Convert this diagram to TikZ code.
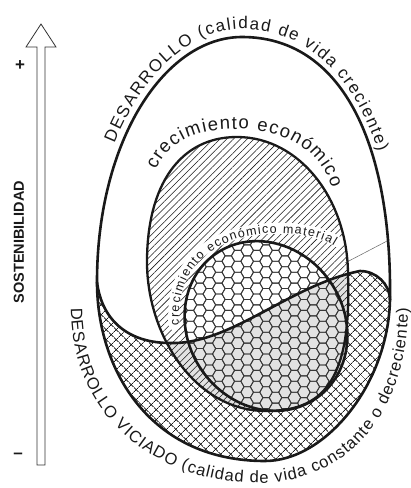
\documentclass[tikz,border=0pt]{standalone}
\usepackage{fontspec}
\setmainfont{Liberation Sans}
\usetikzlibrary{decorations.text,patterns.meta}
\definecolor{gfill}{RGB}{226,226,226}
\definecolor{ink}{RGB}{25,25,25}
\def\EggPath{(97,282) .. controls (97,140) and (165,37) .. (242,37) .. controls (340,37) and (392,140) .. (390,300) .. controls (388,385) and (325,461) .. (265,461) .. controls (150,461) and (97,370) .. (97,282) -- cycle}
\def\LowPath{(97,282) .. controls (102,322) and (130,343) .. (170,343) .. controls (230,345) and (290,285) .. (360,271) .. controls (376,271) and (390,284) .. (390,300) .. controls (388,385) and (325,461) .. (265,461) .. controls (150,461) and (97,370) .. (97,282) -- cycle}
\def\SPath{(97,282) .. controls (102,322) and (130,343) .. (170,343) .. controls (230,345) and (290,285) .. (360,271) .. controls (376,271) and (390,284) .. (390,300)}
\def\HPath{(237,137) .. controls (300,137) and (348,200) .. (348,275) .. controls (352,385) and (320,411) .. (266,411) .. controls (195,411) and (147,335) .. (147,262) .. controls (147,185) and (180,137) .. (237,137) -- cycle}
\def\XPath{[rotate around={35:(266,326)}] (266,326) ellipse [x radius=78pt, y radius=88pt]}
\tikzset{
  outline/.style={draw=ink, line width=2.6pt},
  bigtext/.style={decorate, decoration={text along path, text align={fit to path}, text color=ink}},
  hexline/.style={draw=black!78, line width=0.85pt},
}
\begin{document}
\begin{tikzpicture}[x=1pt,y=-1pt]
\useasboundingbox (0,0) rectangle (411,488);
\fill[white] (0,0) rectangle (411,488);
% lower region: crosshatch
\fill[pattern={Hatch[angle=45,distance=7.4pt,line width=0.8pt]}, pattern color=ink] \LowPath;
% economic growth ellipse
\fill[white] \HPath;
\begin{scope}
  \clip \LowPath;
  \fill[gfill] \HPath;
\end{scope}
\fill[pattern={Lines[angle=45,distance=4.8pt,line width=0.55pt]}, pattern color=ink] \HPath;
% material growth ellipse
\fill[white] \XPath;
\begin{scope}
  \clip \LowPath;
  \fill[gfill] \XPath;
\end{scope}
\begin{scope}
  \clip \XPath;
  \foreach \i in {0,...,19} {
    \foreach \j in {0,...,17} {
      \pgfmathsetmacro\cx{181+9.45*\i}
      \pgfmathsetmacro\cy{234+10.91*\j+5.46*mod(\i,2)}
      \draw[hexline] (\cx,\cy) +(0:6.3) -- +(60:6.3) -- +(120:6.3) -- +(180:6.3) -- +(240:6.3) -- +(300:6.3) -- cycle;
    }
  }
\end{scope}
% white halo under small label
\draw[white, line width=11pt, line cap=round] (174,325) .. controls (170,268) and (204,235) .. (262,229) .. controls (296,226) and (322,232) .. (338,242);
% leader line
\coordinate (ldA) at (345,263);
\coordinate (ldB) at (389,240);
\draw[black!60, line width=0.5pt] (ldA) -- (ldB);
% outlines
\draw[outline, line width=2.3pt] \HPath;
\draw[outline] \XPath;
\draw[outline] \SPath;
\draw[outline] \EggPath;
% labels along curves
\path[bigtext, decoration={text={|\fontsize{17}{17}\selectfont|DESARROLLO (calidad de vida creciente)}}]
  (114.5,143.6) .. controls (142.9,73.7) and (191.4,29) .. (242,29) .. controls (305.7,29) and (353.3,75.1) .. (378.3,151.8);
\path[bigtext, decoration={text={|\fontsize{18.5}{18.5}\selectfont|crecimiento económico}}]
  (156,170) .. controls (170,138) and (200,129) .. (237,129) .. controls (285,129) and (320,150) .. (332,188);
\path[bigtext, decoration={text={|\fontsize{12.5}{13}\selectfont|crecimiento económico material}}]
  (179,325) .. controls (176,272) and (207,240) .. (262,234) .. controls (295,231) and (320,237) .. (334,246);
\path[bigtext, decoration={text={|\fontsize{16.5}{16.5}\selectfont|DESARROLLO VICIADO (calidad de vida constante o decreciente)}}]
  (71,308) .. controls (71,420) and (160,483) .. (258,483) .. controls (350,483) and (408,410) .. (408,308);
% sustainability axis
\draw[draw=black!80, line width=0.8pt, fill=white] (37,465) -- (37,47) -- (26,47) -- (41,24) -- (56,47) -- (45,47) -- (45,465) -- cycle;
\node[font=\bfseries\fontsize{17}{17}\selectfont, text=ink] (plus) at (20,66) {+};
\node[font=\bfseries\fontsize{17}{17}\selectfont, text=ink] (minus) at (18,456) {–};
\node[rotate=90, font=\bfseries\fontsize{14.5}{15}\selectfont, text=ink] (sost) at (19,242) {SOSTENIBILIDAD};
\end{tikzpicture}
\end{document}
